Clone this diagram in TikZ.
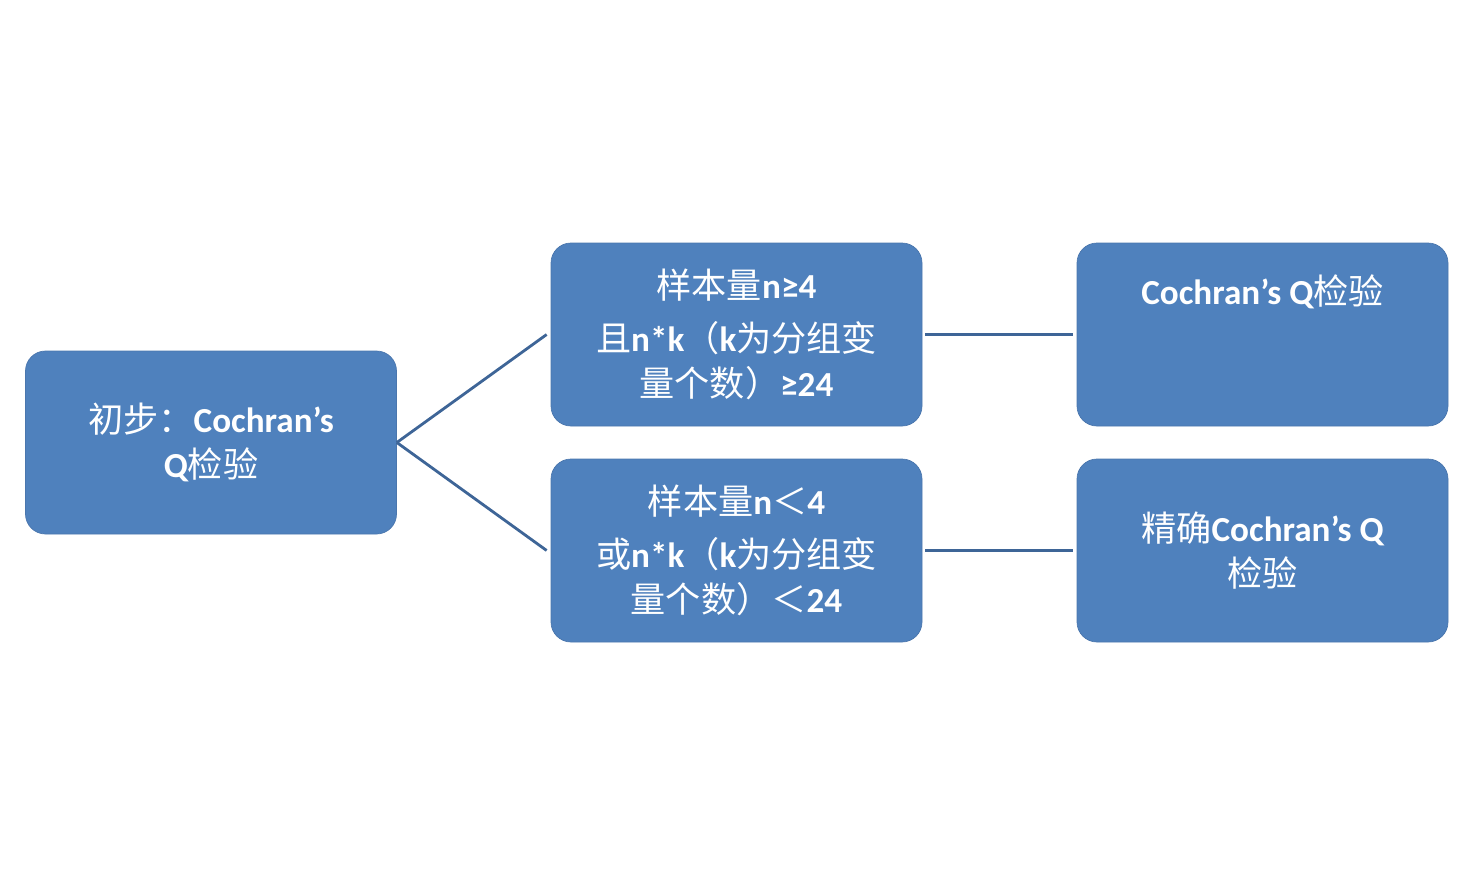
\documentclass[tikz,border=0pt]{standalone}
\usepackage{fontspec}
\setmainfont{Carlito}
\newfontfamily\cjk{Noto Sans CJK SC}
\newcommand{\zh}[1]{{\cjk\mdseries #1}}
\usetikzlibrary{positioning}
\definecolor{boxfill}{HTML}{4F81BD}
\definecolor{boxline}{HTML}{4A76AD}
\definecolor{linkcol}{HTML}{3E6597}
\tikzset{font=\fontsize{20}{26}\selectfont\bfseries}

\begin{document}
\begin{tikzpicture}
	\useasboundingbox (0,0) rectangle (29.4,-17.72);
	\begin{scope}
		\tikzstyle{every node}=[align=center, inner sep=1pt]
		\tikzstyle{box}=[draw=boxline, fill=boxfill, text=white, rounded corners=0.4cm, minimum width=7.42cm, minimum height=3.66cm]
		\tikzstyle{link}=[draw=linkcol, line width=1.6pt]

		\node[box] (start) at (4.22, -8.85) {\zh{初步：}Cochran’s\\Q\zh{检验}};
		\node[box] (big) at (14.73, -6.69) {\zh{样本量}n≥4\\[4pt]\zh{且}n*k\zh{（}k\zh{为分组变}\\\zh{量个数）}≥24};
		\node[box] (small) at (14.73, -11.01) {\zh{样本量}n\zh{＜}4\\[4pt]\zh{或}n*k\zh{（}k\zh{为分组变}\\\zh{量个数）＜}24};
		\node[box] (cq) at (25.25, -6.69) {Cochran’s Q\zh{检验}\\[0.9cm]};
		\node[box] (exact) at (25.25, -11.01) {\zh{精确}Cochran’s Q\\\zh{检验}};

		\draw[link] (start.east) -- ([xshift=-0.08cm]big.west);
		\draw[link] (start.east) -- ([xshift=-0.08cm]small.west);
		\draw[link] ([xshift=0.06cm]big.east) -- ([xshift=-0.08cm]cq.west);
		\draw[link] ([xshift=0.06cm]small.east) -- ([xshift=-0.08cm]exact.west);
	\end{scope}
\end{tikzpicture}
\end{document}
